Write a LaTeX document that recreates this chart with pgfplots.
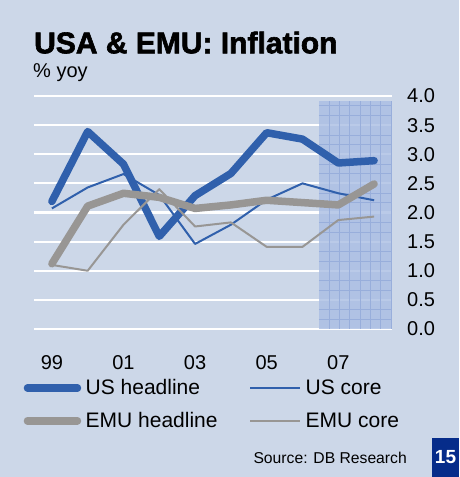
\documentclass[border=0pt]{standalone}
\usepackage{fontspec}
\setmainfont{Liberation Sans}
\newfontfamily\titlefont[FakeBold=2]{Liberation Sans Bold}
\usepackage{pgfplots}
\pgfplotsset{compat=1.18}
\definecolor{bgcol}{HTML}{CCD7E8}
\definecolor{usblue}{HTML}{3060AC}
\definecolor{emugray}{HTML}{989694}
\definecolor{shadecol}{HTML}{A9BDE3}
\definecolor{shadeline}{HTML}{98AEDB}
\definecolor{navycol}{HTML}{062C8A}
\pgfplotsset{thicklegend/.style={legend image code/.code={\path (0pt,0pt) -- (50pt,0pt); \draw[##1] (3.75pt,0pt) -- (46.25pt,0pt);}}}

\pgfplotstableread{
year ush usc emuh emuc
1999 2.19 2.07 1.12 1.10
2000 3.39 2.43 2.11 1.00
2001 2.83 2.66 2.33 1.79
2002 1.59 2.30 2.26 2.40
2003 2.29 1.46 2.07 1.76
2004 2.67 1.79 2.13 1.83
2005 3.37 2.22 2.21 1.41
2006 3.26 2.50 2.17 1.41
2007 2.85 2.33 2.13 1.87
2008 2.89 2.21 2.49 1.93
}\datatable

\begin{document}
\begin{tikzpicture}[x=1pt,y=1pt]
\fill[bgcol] (0,0) rectangle (459,477);
\node[anchor=base west, inner sep=0pt, font=\fontsize{30}{36}\titlefont] at (34,423.7) {USA \& EMU: Inflation};
\node[anchor=base west, inner sep=0pt, font=\fontsize{20}{24}\selectfont] at (33,399) {\% yoy};
\begin{axis}[
  at={(34pt,148pt)}, anchor=south west,
  scale only axis, width=358pt, height=233pt,
  xmin=1998.5, xmax=2008.5, ymin=0, ymax=4,
  clip=false,
  axis line style={draw=none},
  major tick length=0pt,
  ymajorgrids, grid style={white, line width=2.2pt},
  ytick={0,0.5,...,4},
  yticklabel pos=right,
  /pgf/number format/assume math mode=true,
  yticklabel style={/pgf/number format/.cd, fixed, fixed zerofill, precision=1, /tikz/.cd, anchor=west, inner sep=0pt, xshift=15pt},
  xtick={1999,2001,2003,2005,2007},
  xticklabels={99,01,03,05,07},
  xticklabel style={anchor=north, inner sep=0pt, yshift=-26pt},
  tick label style={font=\fontsize{20}{24}\selectfont},
  legend columns=2,
  legend cell align=left,
  legend style={draw=none, fill=none, inner sep=0pt, outer sep=0pt,
    at={(-0.0287,-0.2176)}, anchor=north west,
    font=\fontsize{21}{25}\selectfont,
    nodes={inner sep=0pt},
    column sep=4.5pt, row sep=16pt,
    /tikz/every even column/.append style={column sep=31.5pt}},
  legend image code/.code={\draw[#1] (0pt,0pt) -- (50pt,0pt);},
]
\fill[shadecol, opacity=0.8] (axis cs:2006.454,0) rectangle (axis cs:2008.5,3.92);
\pgfplotsinvokeforeach{2006.742,2007.03,2007.318,2007.606,2007.894,2008.182,2008.47}{
  \draw[shadeline, line width=0.6pt] (axis cs:#1,0) -- (axis cs:#1,3.92);
}
\pgfplotsinvokeforeach{0.1667,0.3333,0.6667,0.8333,1.1667,1.3333,1.6667,1.8333,2.1667,2.3333,2.6667,2.8333,3.1667,3.3333,3.6667,3.8333}{
  \draw[shadeline, line width=0.6pt] (axis cs:2006.454,#1) -- (axis cs:2008.5,#1);
}
\addplot[usblue, line width=7.5pt, line cap=round, line join=round, thicklegend] table[x=year, y=ush] {\datatable};
\addlegendentry{US headline}
\addplot[usblue, line width=2pt, line join=round] table[x=year, y=usc] {\datatable};
\addlegendentry{US core}
\addplot[emugray, line width=7.5pt, line cap=round, line join=round, thicklegend] table[x=year, y=emuh] {\datatable};
\addlegendentry{EMU headline}
\addplot[emugray, line width=2pt, line join=round] table[x=year, y=emuc] {\datatable};
\addlegendentry{EMU core}
\end{axis}
\node[anchor=base east, inner sep=0pt, font=\fontsize{15.7}{18}\selectfont] at (407,13.7) {Source: DB Research};
\fill[navycol] (432,0) rectangle (459,39);
\node[text=white, inner sep=0pt, font=\fontsize{19}{22}\selectfont\bfseries] at (445.5,19.5) {15};
\end{tikzpicture}
\end{document}
